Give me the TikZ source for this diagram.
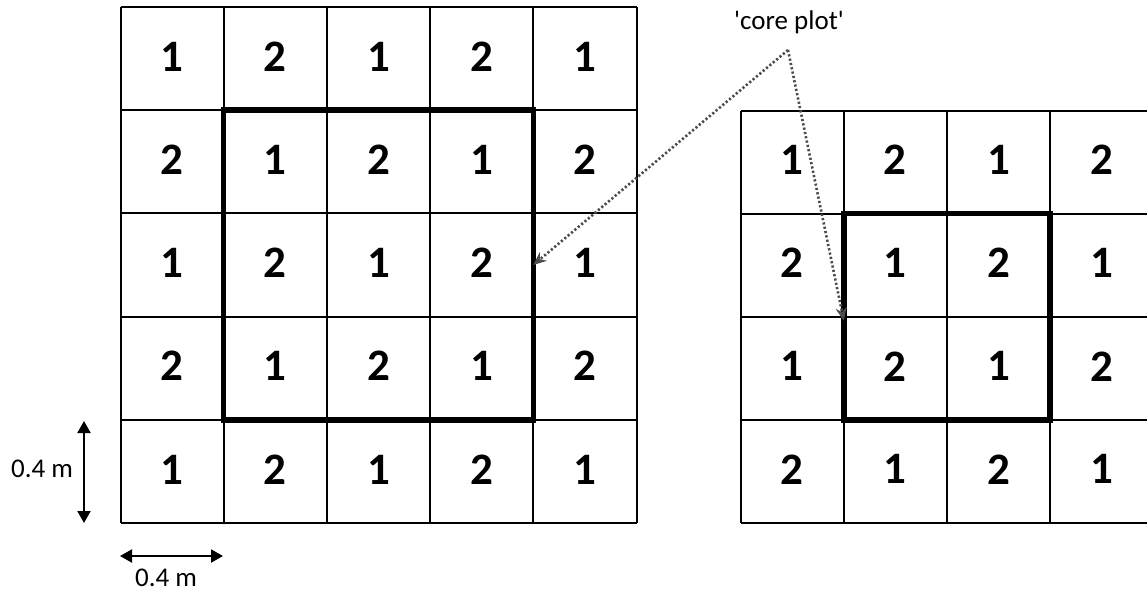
\documentclass[tikz,border=0pt]{standalone}
\usepackage{fontspec}
\setmainfont{Carlito}[Ligatures=TeXOff]
\usetikzlibrary{arrows.meta}
\tikzset{
  cellline/.style={draw=black, line width=2pt},
  corebox/.style={draw=black, line width=5.5pt, inner sep=0pt, outer sep=0pt},
  num/.style={font=\fontsize{45}{50}\selectfont\bfseries, inner sep=0pt},
  lbl/.style={font=\fontsize{27}{30}\selectfont, inner sep=0pt},
  pointer/.style={draw=black!70, line width=2.6pt, dash pattern=on 2.2pt off 2.2pt,
    -{Stealth[length=13pt,width=11pt,fill=black!70]}},
  dimarrow/.style={draw=black, line width=2pt,
    {Triangle[length=12pt,width=13pt]}-{Triangle[length=12pt,width=13pt]}}
}
\begin{document}
\begin{tikzpicture}[x=1pt,y=-1pt]
  \useasboundingbox (0,0) rectangle (1147,592);
  \fill[white] (0,0) rectangle (1147,592);
  \clip (0,0) rectangle (1147,592);

  % left plot: 5 x 5 cells
  \def\lx{120.5}\def\ly{7}\def\cw{103.2}
  \foreach \i in {0,...,5} {
    \draw[cellline] ({\lx+\i*\cw},\ly) -- ({\lx+\i*\cw},{\ly+5*\cw});
    \draw[cellline] (\lx,{\ly+\i*\cw}) -- ({\lx+5*\cw},{\ly+\i*\cw});
  }
  \foreach \r in {0,...,4} {
    \foreach \c in {0,...,4} {
      \pgfmathtruncatemacro{\v}{mod(\r+\c,2)+1}
      \node[num] (L-\r-\c) at ({\lx+(\c+0.5)*\cw},{\ly+(\r+0.5)*\cw-2}) {\v};
    }
  }
  \node[corebox, minimum width=309.6pt, minimum height=309.6pt] (coreL)
    at ({\lx+2.5*\cw},{\ly+2.5*\cw}) {};

  % right plot: 4 rows, running past the right edge
  \def\rx{740.7}\def\ry{110.5}\def\rw{103.1}
  \foreach \i in {0,...,4} {
    \draw[cellline] ({\rx+\i*\rw},\ry) -- ({\rx+\i*\rw},{\ry+4*\rw});
    \draw[cellline] (\rx,{\ry+\i*\rw}) -- ({\rx+4*\rw+10},{\ry+\i*\rw});
  }
  \foreach \r in {0,...,3} {
    \foreach \c in {0,...,3} {
      \pgfmathtruncatemacro{\v}{mod(\r+\c,2)+1}
      \node[num] (R-\r-\c) at ({\rx+(\c+0.5)*\rw},{\ry+(\r+0.5)*\rw-2}) {\v};
    }
  }
  \node[corebox, minimum width=206.2pt, minimum height=206.2pt] (coreR)
    at ({\rx+2*\rw},{\ry+2*\rw}) {};

  % label with pointers to both core plots
  \node[lbl] (core) at (789,22) {'core plot'};
  \coordinate (fork) at (788,50);
  \draw[pointer] (fork) -- (coreL.east);
  \draw[pointer] (fork) -- ([yshift=-4pt]coreR.west);

  % scale bars
  \coordinate (vtop) at (84,421);
  \coordinate (vbot) at (84,523);
  \draw[dimarrow] (vtop) -- (vbot);
  \node[lbl] (vlab) at (42,469) {0.4 m};
  \coordinate (hl) at (120,556);
  \coordinate (hr) at (223,556);
  \draw[dimarrow] (hl) -- (hr);
  \node[lbl] (hlab) at (166,578) {0.4 m};
\end{tikzpicture}
\end{document}
